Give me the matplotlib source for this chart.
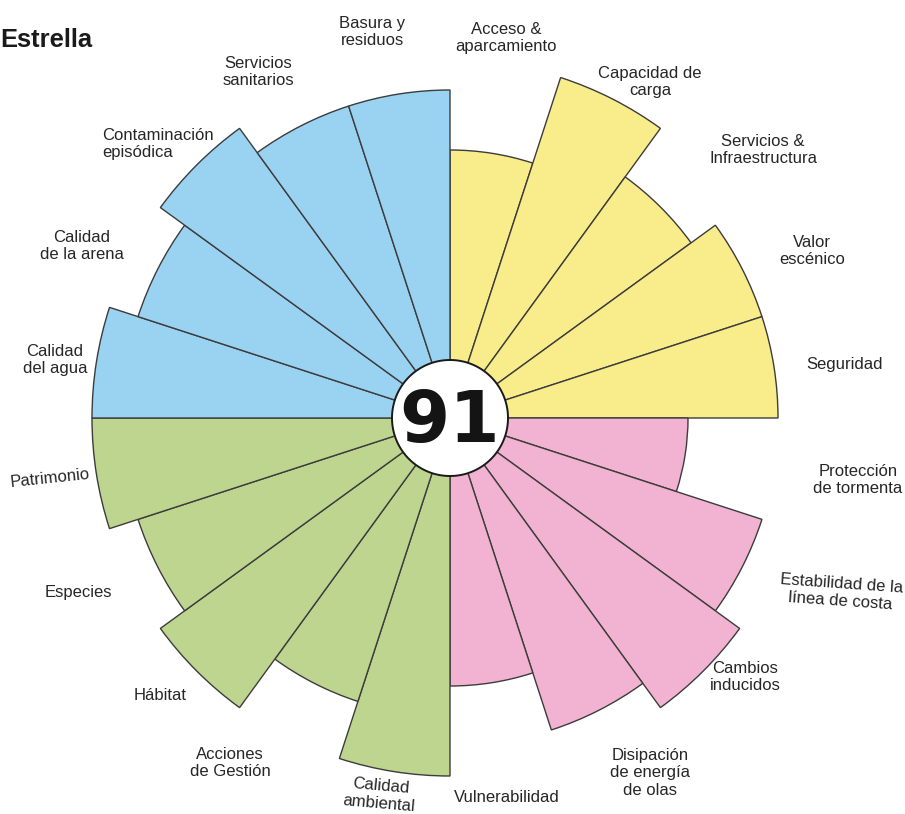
import numpy as np
import matplotlib
matplotlib.use("Agg")
import matplotlib.pyplot as plt

plt.rcParams['font.family'] = ['Liberation Sans', 'DejaVu Sans']

# indicators, clockwise from 12 o'clock
labels = ["Acceso &\naparcamiento", "Capacidad de\ncarga", "Servicios &\nInfraestructura",
          "Valor\nescénico", "Seguridad",
          "Protección\nde tormenta", "Estabilidad de la\nlínea de costa", "Cambios\ninducidos",
          "Disipación\nde energía\nde olas", "Vulnerabilidad",
          "Calidad\nambiental", "Acciones\nde Gestión", "Hábitat", "Especies", "Patrimonio",
          "Calidad\ndel agua", "Calidad\nde la arena", "Contaminación\nepisódica",
          "Servicios\nsanitarios", "Basura y\nresiduos"]
scores = [7, 10, 8, 9, 9,
          6, 9, 10, 9, 7,
          10, 8, 10, 9, 10,
          10, 9, 10, 9, 9]
groups = [0]*5 + [1]*5 + [2]*5 + [3]*5
group_colors = ["#F9EC8B", "#F2B2D1", "#BDD58F", "#9AD2F2"]
total = 91
title = "Estrella"

W, H = 905, 814
cx, cy = 450, 418          # chart centre in pixels
px_per_unit = 30
hole = 58 / px_per_unit    # radius of central disc
rmax = 12

fig = plt.figure(figsize=(W/100, H/100), dpi=100)
R = rmax * px_per_unit
ax = fig.add_axes([(cx-R)/W, (H-cy-R)/H, 2*R/W, 2*R/H], projection='polar')
ax.set_theta_zero_location('N')
ax.set_theta_direction(-1)
ax.set_ylim(0, rmax)
ax.set_axis_off()

n = len(scores)
width = 2*np.pi/n
theta = np.arange(n)*width + width/2
cols = [group_colors[g] for g in groups]
ax.bar(theta, np.array(scores) + hole, width=width, bottom=0, color=cols,
       edgecolor="#3c3c3c", linewidth=1.0, zorder=2)

t = np.linspace(0, 2*np.pi, 300)
ax.fill(t, np.full_like(t, hole), facecolor="white", edgecolor="#1a1a1a",
        linewidth=1.4, zorder=3)

def px(x, y):
    return x/W, 1 - y/H

fig.text(*px(cx, 442), str(total), ha='center', va='baseline', fontsize=52,
         fontweight='bold', family='DejaVu Sans', color="#141414", zorder=5)

fig.text(*px(0, 47), title, ha='left', va='baseline', fontsize=18.4,
         fontweight='bold', color="#1a1a1a")

# label anchors (pixels) and tilt
label_pos = [(506, 38, 0), (650, 82, 0), (763, 150, 0), (812, 251, 0), (845, 365, 0),
             (858, 480, 0), (841, 592, -4), (745, 677, 0), (650, 773, 0), (507, 797, 0),
             (380, 795, -5), (230, 763, 0), (160, 695, 0), (78, 593, 0), (50, 478, 6),
             (55, 360, 0), (82, 246, 0), (102, 144, 0), (258, 72, 0), (372, 32, 0)]

for lab, (x, y, rot) in zip(labels, label_pos):
    ha = 'left' if lab.startswith("Contaminación") else 'center'
    fig.text(*px(x, y), lab, ha=ha, va='center', multialignment=ha,
             fontsize=12, color="#262626", rotation=rot, linespacing=1.2,
             rotation_mode='anchor')

fig.savefig("out.png", dpi=100)
